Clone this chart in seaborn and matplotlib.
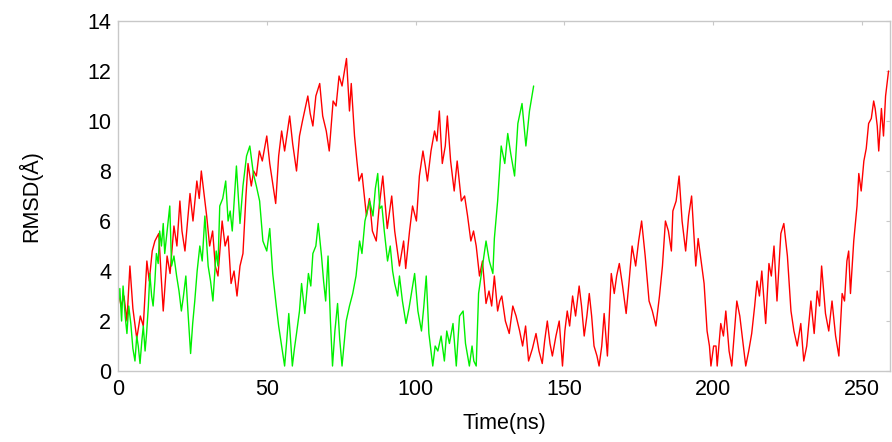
import matplotlib
matplotlib.use("Agg")
import matplotlib.pyplot as plt
import seaborn as sns
import pandas as pd

# ---- data (time in ns, RMSD in Angstrom) ----
red_time = [0, 1, 2, 3, 4, 5, 6.3, 7.5, 8.5, 9.7, 10.5, 11.5, 12.4, 13.7, 14.5, 15.2, 16.5, 17.5,
            18.8, 19.8, 20.8, 21.5, 22.5, 24.2, 25.2, 26.5, 27.3, 28, 29.8, 30.8, 31.8, 32.7, 33.6,
            35, 36, 37, 38, 39, 40, 41, 42, 43, 43.7, 44.8, 45.6, 46.5, 47.5, 48.5, 50, 51, 52, 53,
            54, 55, 56, 57.7, 58.7, 60, 61, 62, 63.8, 64.6, 65.5, 66.5, 67.8, 68.8, 70, 71, 72.3,
            73.3, 74.3, 75.3, 76.8, 77.8, 78.4, 79.5, 80.3, 81, 82, 83.5, 84.5, 85.5, 86.8, 87.8,
            89, 90.5, 92, 93, 94.6, 96, 96.7, 98, 99, 100.3, 101.3, 102.5, 103.3, 104, 105.2,
            106.4, 107.2, 108, 109, 110, 110.7, 111.8, 113, 114, 115.4, 116.5, 117.5, 118.6, 119.5,
            120.4, 121.5, 122.5, 123.7, 124.7, 125.6, 126.5, 127.6, 128.3, 129, 130.2, 131.5,
            132.7, 133.8, 135, 136, 137, 138, 139.3, 140.5, 141.5, 142.6, 143.4, 144.3, 145.2, 146,
            147.2, 148.3, 149.4, 150.2, 151, 151.8, 152.8, 153.8, 155, 155.8, 156.7, 157.6, 158.4,
            159.2, 160, 161, 161.7, 162.6, 163.4, 164.5, 165.8, 166.8, 167.6, 168.5, 169.6, 170.8,
            171.8, 172.8, 174, 175, 176, 177.2, 178.5, 179.6, 180.8, 182, 183, 184, 185, 186,
            186.5, 187.6, 188.6, 189.6, 190.8, 191.8, 192.8, 193.5, 194.2, 195, 196, 197, 198,
            198.8, 199.3, 200.2, 201, 201.4, 202.6, 203.5, 204.3, 205.4, 206.3, 207.2, 208, 209,
            209.7, 210.4, 211, 212, 213, 214, 214.8, 215.6, 216.4, 217.7, 218.8, 219.6, 220.5,
            221.5, 222.8, 223.8, 225, 226.2, 227.2, 228.3, 229.5, 230.5, 231.5, 232.9, 234, 235,
            235.8, 236.5, 237.2, 237.8, 238.9, 240, 241.2, 242.3, 243.4, 244.2, 245, 245.6, 246.2,
            247.3, 248.4, 249, 249.8, 250.7, 251.5, 252.3, 253.2, 254, 254.5, 255.2, 255.7, 256.6,
            257.3, 258, 259]
red_rmsd = [3.3, 2.6, 3.0, 2.0, 4.2, 2.5, 1.3, 2.2, 1.8, 4.4, 3.6, 4.8, 5.2, 5.5, 3.8, 2.4, 4.6, 3.9,
            5.8, 5.0, 6.8, 5.6, 4.8, 7.1, 6.0, 7.6, 6.9, 8.0, 6.2, 5.0, 5.6, 4.2, 3.8,
            6.0, 5.0, 5.4, 3.5, 4.0, 3.0, 4.2, 4.7, 7.0, 8.3, 7.4, 8.0, 7.8, 8.8, 8.4, 9.4, 8.3, 7.5, 6.7,
            8.6, 9.6, 8.8, 10.2, 9.1, 8.0, 9.4, 10.0, 11.0, 10.3, 9.8, 11.0, 11.5, 10.2, 9.6, 8.8, 10.8,
            10.6, 11.8, 11.4, 12.5, 10.4, 11.5, 9.4, 8.4, 7.6, 7.9, 6.2, 6.9, 5.6, 5.2, 6.6,
            7.8, 5.7, 7.0, 5.6, 4.2, 5.2, 4.1, 5.6, 6.6, 6.0, 7.8, 8.8, 8.2, 7.6, 8.8,
            9.6, 9.2, 10.4, 8.3, 9.0, 10.2, 8.4, 7.2, 8.4, 6.8, 7.0, 6.2, 5.2, 5.6,
            5.0, 3.8, 4.4, 2.7, 3.2, 2.6, 3.8, 2.4, 2.8, 3.0, 2.0, 1.5,
            2.6, 2.2, 1.6, 1.0, 1.8, 0.4, 0.9, 1.5, 0.8, 0.3, 1.2, 2.0, 1.1, 0.6,
            1.4, 2.0, 0.2, 1.6, 2.4, 1.8, 3.0, 2.2, 3.4, 2.6, 1.4, 2.2, 3.1,
            2.2, 1.0, 0.6, 0.2, 1.0, 2.3, 0.6, 3.9, 3.1, 3.8, 4.3, 3.4, 2.3,
            3.6, 5.0, 4.2, 5.2, 6.0, 4.6, 2.8, 2.4, 1.8, 3.0, 4.2, 6.0, 5.6, 4.8,
            6.4, 6.8, 7.8, 6.0, 4.8, 6.2, 7.0, 5.6, 4.2, 5.3, 4.4, 3.5, 1.6,
            1.0, 0.2, 1.0, 1.0, 0.2, 1.9, 1.4, 2.4, 0.8, 0.2, 1.6, 2.8, 2.2,
            1.5, 0.8, 0.2, 0.8, 1.5, 2.6, 3.6, 3.0, 4.0, 1.9, 4.3, 3.8, 5.0,
            2.8, 5.5, 5.9, 4.6, 2.4, 1.6, 1.0, 1.9, 0.4, 1.0, 2.8, 1.5, 3.2,
            2.6, 4.2, 3.2, 2.3, 1.6, 2.8, 1.4, 0.6, 3.1, 2.8, 4.4, 4.8, 3.1,
            5.2, 6.6, 7.9, 7.2, 8.4, 8.9, 9.9, 10.1, 10.8, 10.5, 9.8, 8.8, 10.5,
            9.4, 11.0, 12.0]

green_time = [0, 0.6, 1.2, 1.7, 2.4, 3, 3.6, 4.3, 5, 5.7, 6.3, 6.8, 7.4, 8, 8.5, 9.1, 9.6, 10.2,
              10.7, 11.3, 11.8, 12.4, 12.9, 13.5, 14, 14.6, 15.2, 15.7, 16.5, 17.4, 18, 18.8, 19.7,
              20.5, 21.3, 22, 22.8, 23.6, 24.4, 25.1, 25.8, 26.6, 27.5, 28.3, 29.2, 30.3, 31.1,
              31.9, 33, 33.6, 34.2, 35.2, 36.2, 37, 37.7, 38.4, 39.8, 41, 42, 43.2, 44.3, 45.5,
              46.5, 47.6, 48.7, 50, 51, 52, 53.2, 54, 55, 56, 56.7, 57.4, 58.6, 59.3, 60, 61, 61.7,
              62.8, 64, 64.8, 65.5, 66.5, 67.3, 68.4, 69.1, 69.8, 70.6, 71.4, 72.1, 72.9, 73.8,
              74.5, 75.3, 76, 76.7, 77.8, 78.9, 80, 81.2, 82, 83, 84.6, 85.7, 86.5, 87.3, 88, 88.7,
              89.5, 90.6, 91.5, 92.3, 93, 94, 94.6, 95.6, 96.8, 97.8, 98.6, 99.7, 100.8, 102,
              102.8, 103.6, 104.5, 105.2, 105.8, 106.6, 107.5, 108.6, 109.7, 110.5, 111.4, 112.6,
              113.7, 114.8, 116, 116.8, 118.1, 119, 119.6, 120.4, 121.2, 122.5, 123.7, 124.8, 126,
              126.5, 127.6, 128.8, 130, 131, 132, 133.3, 134.4, 135.8, 137.1, 138.3, 139.7]
green_rmsd = [2.6, 3.3, 2.0, 3.4, 2.2, 1.5, 2.6, 1.9, 0.9, 0.4, 1.4, 1.0, 0.3, 1.2, 1.8, 0.8, 1.5, 2.6,
              3.9, 3.0, 2.6, 3.6, 4.7, 4.3, 5.6, 5.0, 5.9, 4.7, 5.6, 6.6, 4.2, 4.6, 3.8,
              3.2, 2.4, 3.0, 3.8, 2.2, 0.7, 1.9, 2.8, 4.0, 5.0, 4.4, 6.2, 4.2, 3.6,
              2.8, 4.8, 4.2, 6.6, 6.9, 7.6, 6.0, 6.4, 5.6, 8.2, 5.9, 7.4, 8.6, 9.0, 7.9,
              7.4, 6.8, 5.2, 4.8, 5.7, 3.9, 2.6, 1.8, 1.0, 0.2, 1.2, 2.3, 0.2, 0.9, 1.5, 2.4, 3.5,
              2.3, 3.9, 3.4, 4.7, 5.0, 5.9, 4.6, 3.6, 2.8, 4.6, 2.0, 0.2, 1.6, 2.7,
              1.3, 0.2, 1.1, 2.0, 2.6, 3.1, 3.8, 5.2, 4.7, 6.0, 6.8, 6.2, 7.3, 7.9, 6.5, 6.6,
              5.6, 4.4, 5.0, 4.0, 3.5, 3.0, 3.8, 2.8, 1.9, 2.5, 3.1, 3.9, 2.4, 1.6,
              2.6, 3.8, 1.5, 0.8, 0.2, 1.0, 0.8, 1.4, 0.4, 1.6, 1.1, 1.9,
              0.2, 2.2, 2.4, 1.1, 0.2, 1.0, 0.4, 0.2, 3.1, 4.2, 5.2, 4.4, 3.9,
              5.3, 6.8, 9.0, 8.3, 9.5, 8.7, 7.8, 9.9, 10.7, 9.0, 10.4, 11.4]

x_ticks = [0, 50, 100, 150, 200, 250]
y_ticks = [0, 2, 4, 6, 8, 10, 12, 14]

red_df = pd.DataFrame({"Time": red_time, "RMSD": red_rmsd})
green_df = pd.DataFrame({"Time": green_time, "RMSD": green_rmsd})

sns.set_style("white")
plt.rcParams["font.family"] = ["Liberation Sans", "DejaVu Sans"]
plt.rcParams["text.color"] = "black"
plt.rcParams["axes.labelcolor"] = "black"

fig = plt.figure(figsize=(8.92, 4.42), dpi=100)
ax = fig.add_axes([0.1323, 0.1606, 0.8655, 0.7919])

sns.lineplot(data=red_df, x="Time", y="RMSD", color="#ff0000", linewidth=1.0, ax=ax,
             estimator=None, sort=False)
sns.lineplot(data=green_df, x="Time", y="RMSD", color="#00f000", linewidth=1.0, ax=ax,
             estimator=None, sort=False)

ax.set_xlim(0, 259.5)
ax.set_ylim(0, 14)
ax.set_xticks(x_ticks)
ax.set_yticks(y_ticks)
ax.set_xticklabels([str(v) for v in x_ticks])
ax.set_yticklabels([str(v) for v in y_ticks])

for s in ax.spines.values():
    s.set_color("#c8c8c8")
    s.set_linewidth(1.0)

ax.tick_params(axis="both", direction="in", length=3, width=0.8, color="#c8c8c8",
               labelsize=15.5, labelcolor="black", top=True, right=True)
ax.tick_params(axis="x", pad=6)
ax.tick_params(axis="y", pad=5)
ax.set_xlabel("Time(ns)", fontsize=15.5, color="black")
ax.set_ylabel("RMSD(Å)", fontsize=15.5, color="black")
ax.xaxis.set_label_coords(0.5, -0.12)
ax.yaxis.set_label_coords(-0.098, 0.5)

fig.savefig("out.png", dpi=100)
